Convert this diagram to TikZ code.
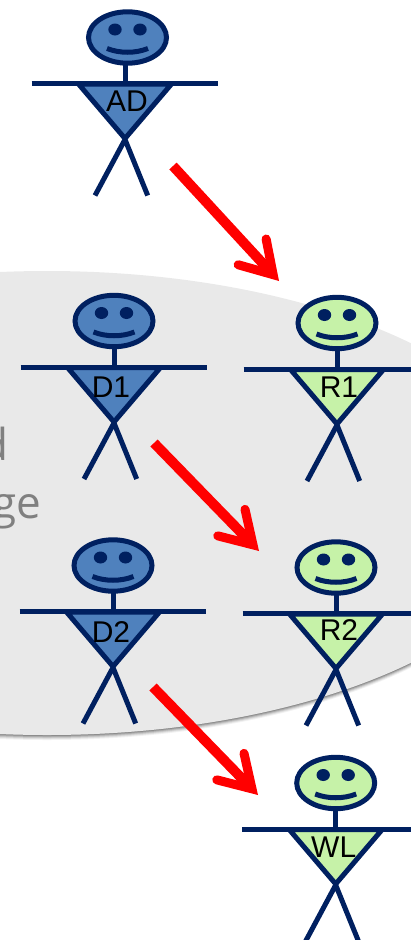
\documentclass[tikz,border=0pt]{standalone}
\usepackage{fontspec}
\setmainfont{Liberation Sans}
\newfontfamily\notefont{Open Sans}
\usetikzlibrary{arrows.meta}
\definecolor{navy}{HTML}{002060}
\definecolor{bluefill}{HTML}{4F81BD}
\definecolor{greenfill}{HTML}{C6F2A8}
\definecolor{cloud}{HTML}{E9E9E9}
\definecolor{redarrow}{HTML}{FF0000}
\tikzset{
  x=1pt,y=-1pt,
  personline/.style={draw=navy,line width=5pt},
  personlabel/.style={font=\fontsize{30}{30}\selectfont,text=black,inner sep=0pt,anchor=center},
  notetext/.style={font=\notefont\fontsize{44}{44}\selectfont,text=black!50,inner sep=0pt,anchor=base east},
  flow/.style={draw=redarrow,line width=10pt,-{Straight Barb[length=31pt,width=38pt,line width=9pt,line cap=round,line join=miter]}},
}
\newcommand{\stickman}[8]{% name, x, y, fill, label, label dx, label dy, head dx
  \begin{scope}[shift={(#2,#3)}]
    \draw[personline,line cap=butt] (-30,158) -- (0,102) -- (22.7,158);
    \draw[personline,fill=#4,line join=miter] (-46.5,46.5) -- (46.5,46.5) -- (0,101) -- cycle;
    \draw[personline] (-93.3,46) -- (93.3,46);
    \draw[personline] (0,25) -- (0,46);
    \begin{scope}[xshift=#8]
      \draw[personline,fill=#4] (0,0) ellipse [x radius=39,y radius=25.7];
      \fill[navy] (-12.5,-8) ellipse [x radius=6.7,y radius=6];
      \fill[navy] (12.5,-8) ellipse [x radius=6.7,y radius=6];
      \draw[personline] (-20.5,11) .. controls (-8,16) and (8,16) .. (20.5,11);
    \end{scope}
    \node[personlabel] (#1) at (#6,#7) {#5};
  \end{scope}
}
\begin{document}
\begin{tikzpicture}
  \useasboundingbox (0,0) rectangle (411,940);
  \clip (0,0) rectangle (411,940);
  % grey region with soft lower shadow
  \foreach \d/\o in {5/0.05,4/0.08,3/0.10,2/0.14,1/0.18}
    \fill[black,opacity=\o] (47,503+\d) ellipse [x radius=502,y radius=232];
  \fill[cloud] (47,503) ellipse [x radius=502,y radius=232];
  \node[notetext] (noteA) at (9,460) {d};
  \node[notetext] (noteB) at (41,518.5) {ge};
  \stickman{ad}{125}{37.5}{bluefill}{AD}{2}{64}{2.5pt}
  \stickman{dA}{114}{321}{bluefill}{D1}{-3}{66}{0pt}
  \stickman{rA}{337}{323}{greenfill}{R1}{2}{64}{0pt}
  \stickman{dB}{113}{565.5}{bluefill}{D2}{-2}{67}{0pt}
  \stickman{rB}{336}{567.5}{greenfill}{R2}{3}{63}{0pt}
  \stickman{wl}{335.7}{783}{greenfill}{WL}{-2}{64}{0pt}
  \coordinate (a1) at (173,166); \coordinate (b1) at (279,281);
  \coordinate (a2) at (154,443); \coordinate (b2) at (259,551);
  \coordinate (a3) at (153,687); \coordinate (b3) at (258,795);
  \draw[flow] (a1) -- (b1);
  \draw[flow] (a2) -- (b2);
  \draw[flow] (a3) -- (b3);
\end{tikzpicture}
\end{document}
